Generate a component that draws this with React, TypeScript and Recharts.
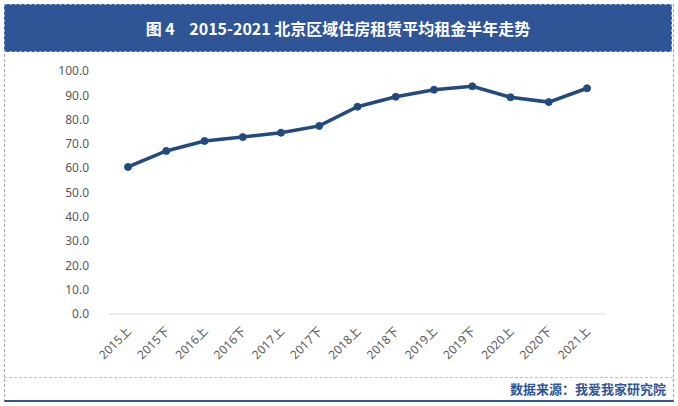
import { LineChart, Line, XAxis, YAxis } from "recharts"

const periods = [
  "2015上", "2015下", "2016上", "2016下", "2017上", "2017下", "2018上",
  "2018下", "2019上", "2019下", "2020上", "2020下", "2021上",
]
const rents = [60.5, 67.1, 71.2, 72.8, 74.6, 77.4, 85.3, 89.4, 92.3, 93.7, 89.2, 87.2, 92.9]
const yTicks = [0, 10, 20, 30, 40, 50, 60, 70, 80, 90, 100]

const TITLE = "图 4\u00a0\u00a0\u00a0 2015-2021 北京区域住房租赁平均租金半年走势"
const SOURCE = "数据来源：我爱我家研究院"

const BLUE = "#2F5597"
const LINE = "#234A7E"
const FONT = "'Noto Sans', 'Noto Sans CJK SC', sans-serif"

const data = periods.map((p, i) => ({ period: p, rent: rents[i] }))

function XTick({ x, y, payload }: any) {
  return (
    <text
      x={0}
      y={0}
      transform={`translate(${x + 4},${y + 10}) rotate(-45)`}
      textAnchor="end"
      fontSize={12}
      fill="#595959"
      fontFamily={FONT}
    >
      {payload.value}
    </text>
  )
}

export default function App() {
  return (
    <div style={{ position: "fixed", left: 0, top: 0, width: 678, height: 406, background: "#fff", fontFamily: FONT }}>
      {/* outer frame */}
      <div
        style={{
          position: "absolute", left: 4, top: 4, width: 668, height: 396,
          borderLeft: "1px dashed #A6A6A6", borderRight: "1px dashed #A6A6A6",
          borderBottom: `2px solid ${BLUE}`,
        }}
      />
      {/* title banner */}
      <div
        style={{
          position: "absolute", left: 4, top: 4, width: 668, height: 48,
          background: BLUE, border: "1px dashed #8EA9DB", boxSizing: "border-box",
          color: "#fff", fontWeight: 700, fontSize: 16, lineHeight: "46px", textAlign: "center",
          fontFamily: "'Noto Sans CJK SC', sans-serif",
        }}
      >
        {TITLE}
      </div>
      {/* separator above source */}
      <div style={{ position: "absolute", left: 4, top: 377, width: 669, borderTop: "1px dashed #BFBFBF" }} />
      <div
        style={{
          position: "absolute", right: 12, top: 379, color: BLUE, fontWeight: 700,
          fontSize: 13, lineHeight: "20px", fontFamily: "'Noto Sans CJK SC', sans-serif",
        }}
      >
        {SOURCE}
      </div>
      <div style={{ position: "absolute", left: 0, top: 0 }}>
        <LineChart width={678} height={406} data={data} margin={{ top: 71, right: 72, bottom: 32, left: 49 }}>
          <XAxis
            dataKey="period"
            padding={{ left: 19, right: 19 }}
            tick={<XTick />}
            tickLine={false}
            axisLine={{ stroke: "#D9D9D9", strokeWidth: 1 }}
            interval={0}
            height={60}
          />
          <YAxis
            domain={[0, 100]}
            ticks={yTicks}
            tickFormatter={(v: number) => v.toFixed(1)}
            tick={{ fontSize: 12, fill: "#595959", fontFamily: FONT }}
            tickLine={false}
            axisLine={false}
            width={60}
            tickMargin={14}
          />
          <Line
            type="linear"
            dataKey="rent"
            stroke={LINE}
            strokeWidth={3.5}
            dot={{ r: 3.5, fill: LINE, stroke: LINE, strokeWidth: 1 }}
            isAnimationActive={false}
          />
        </LineChart>
      </div>
    </div>
  )
}
